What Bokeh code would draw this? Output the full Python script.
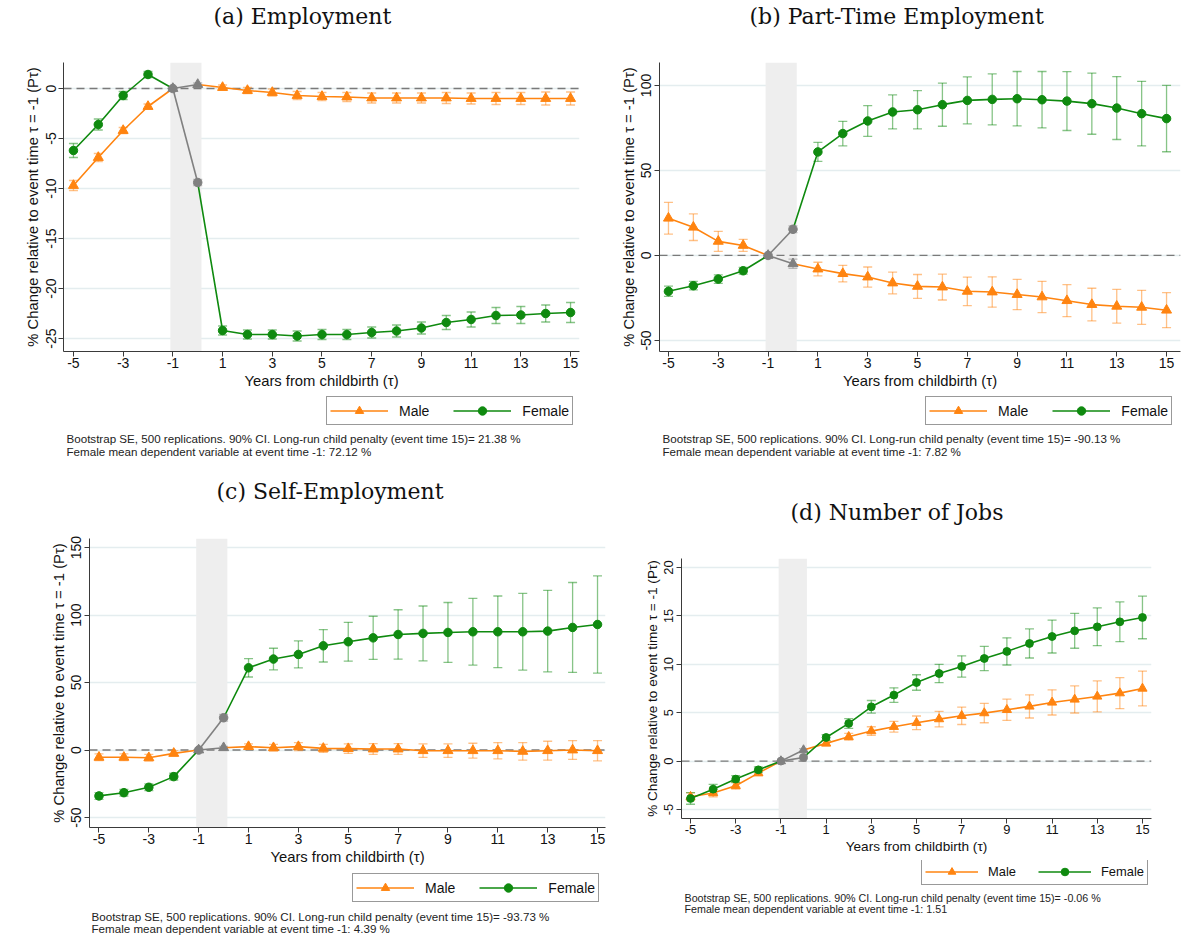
from bokeh.plotting import figure
from bokeh.layouts import row, column
from bokeh.models import (Range1d, FixedTicker, BoxAnnotation, Span, Whisker, TeeHead,
                          ColumnDataSource, Legend, LegendItem, Label)
from bokeh.embed import file_html
from bokeh.resources import INLINE

# ---------------- data ----------------
EVENT_TIME = list(range(-5, 16))
X_TICKS = [-5, -3, -1, 1, 3, 5, 7, 9, 11, 13, 15]

# (a) Employment
EMP_MALE = [-9.7, -6.9, -4.2, -1.8, 0.0, 0.4, 0.1, -0.2, -0.4, -0.7, -0.8, -0.85, -0.95, -0.95,
            -0.95, -0.95, -1.0, -1.0, -1.0, -1.0, -1.0]
EMP_MALE_CI = [0.5, 0.4, 0.3, 0.25, 0.0, 0.15, 0.25, 0.3, 0.35, 0.4, 0.4, 0.45, 0.5, 0.5, 0.5,
               0.55, 0.55, 0.6, 0.6, 0.65, 0.65]
EMP_FEMALE = [-6.2, -3.6, -0.7, 1.4, 0.0, -9.4, -24.2, -24.6, -24.6, -24.75, -24.6, -24.6, -24.4,
              -24.25, -23.95, -23.4, -23.1, -22.7, -22.65, -22.5, -22.4]
EMP_FEMALE_CI = [0.7, 0.55, 0.4, 0.3, 0.0, 0.3, 0.45, 0.45, 0.45, 0.5, 0.5, 0.5, 0.55, 0.6, 0.6,
                 0.7, 0.75, 0.8, 0.85, 0.85, 1.0]
EMP_YTICKS = [-25, -20, -15, -10, -5, 0]

# (b) Part-Time Employment
PT_MALE = [21.9, 16.6, 8.3, 5.9, 0.0, -4.9, -8.0, -10.7, -12.7, -16.2, -18.2, -18.6, -21.1, -21.5,
           -23.0, -24.4, -26.6, -28.9, -29.9, -30.5, -32.2]
PT_MALE_CI = [9.3, 7.8, 5.9, 3.5, 0.0, 2.7, 4.0, 4.9, 5.9, 6.4, 7.0, 7.6, 8.4, 8.9, 8.9, 9.2,
              9.4, 9.6, 9.9, 10.0, 10.3]
PT_FEMALE = [-21.1, -17.8, -13.9, -9.0, 0.0, 15.4, 60.9, 71.7, 79.1, 84.4, 85.7, 88.7, 91.2, 91.8,
             92.2, 91.6, 90.8, 89.3, 86.7, 83.4, 80.5]
PT_FEMALE_CI = [3.0, 2.5, 2.5, 2.0, 0.0, 2.0, 5.6, 7.2, 9.0, 10.0, 11.3, 12.7, 13.8, 15.0, 16.0,
                16.6, 17.3, 18.0, 18.5, 19.0, 19.5]
PT_YTICKS = [-50, 0, 50, 100]

# (c) Self-Employment
SE_MALE = [-5.4, -5.4, -5.7, -2.5, 0.0, 1.7, 2.5, 1.7, 2.5, 1.2, 1.0, 0.7, 0.7, -0.5, -0.5, -0.5,
           -0.5, -1.0, -0.5, 0.0, -0.5]
SE_MALE_CI = [2.5, 2.5, 2.5, 2.0, 0.0, 1.0, 2.0, 2.5, 3.0, 3.0, 3.5, 4.0, 4.0, 5.0, 5.0, 5.5,
              6.0, 6.5, 7.0, 7.0, 7.5]
SE_FEMALE = [-34.0, -31.6, -27.6, -19.7, 0.0, 23.9, 60.9, 67.4, 70.8, 77.2, 80.2, 83.1, 85.6, 86.4,
             87.1, 87.6, 87.6, 87.6, 88.1, 90.8, 93.0]
SE_FEMALE_CI = [2.5, 2.5, 2.5, 2.5, 0.0, 2.5, 6.8, 8.0, 10.0, 12.0, 14.4, 16.0, 18.3, 20.3, 22.2,
                24.7, 26.5, 28.4, 30.2, 33.3, 36.0]
SE_YTICKS = [-50, 0, 50, 100, 150]

# (d) Number of Jobs
JOBS_MALE = [-3.68, -3.3, -2.55, -1.24, 0.0, 1.14, 1.83, 2.51, 3.1, 3.55, 3.96, 4.34, 4.68, 4.96,
             5.3, 5.65, 6.06, 6.37, 6.68, 7.02, 7.5]
JOBS_MALE_CI = [0.4, 0.4, 0.35, 0.25, 0.0, 0.15, 0.25, 0.35, 0.45, 0.55, 0.7, 0.8, 0.9, 1.0, 1.1,
                1.2, 1.3, 1.4, 1.6, 1.6, 1.8]
JOBS_FEMALE = [-3.86, -2.9, -1.86, -0.9, 0.0, 0.38, 2.44, 3.89, 5.61, 6.82, 8.12, 9.05, 9.78, 10.6,
               11.33, 12.15, 12.87, 13.46, 13.87, 14.39, 14.84]
JOBS_FEMALE_CI = [0.6, 0.5, 0.35, 0.3, 0.0, 0.15, 0.3, 0.5, 0.65, 0.75, 0.8, 0.95, 1.1, 1.25, 1.4,
                  1.5, 1.7, 1.8, 1.95, 2.05, 2.2]
JOBS_YTICKS = [-5, 0, 5, 10, 15, 20]

TITLES = ["(a) Employment", "(b) Part-Time Employment", "(c) Self-Employment", "(d) Number of Jobs"]
NOTE_1 = "Bootstrap SE, 500 replications. 90% CI. Long-run child penalty (event time 15)= "
PENALTIES = ["21.38 %", "-90.13 %", "-93.73 %", "-0.06 %"]
NOTE_2 = "Female mean dependent variable at event time -1: "
MEANS = ["72.12 %", "7.82 %", "4.39 %", "1.51"]
SERIES_NAMES = ["Male", "Female"]
X_LABEL = "Years from childbirth (\u03c4)"
Y_LABEL = "% Change relative to event time \u03c4 = -1 (P\u03c4)"

# ---------------- style / layout ----------------
ORANGE = "#FF8410"
GREEN = "#0F8A0F"
GRAY = "#808080"
SANS = "Liberation Sans"
SERIF = "DejaVu Serif"

# w: panel width; strips: (title strip h, main h, legend strip h);
# mb: main figure min borders (left, right, top, bottom).
# Positions in the strips are pixels from the left edge of the plot frame and from the strip bottom.
PANELS = [
    dict(male=EMP_MALE, male_ci=EMP_MALE_CI, female=EMP_FEMALE, female_ci=EMP_FEMALE_CI,
         yticks=EMP_YTICKS, xr=(-5.40, 15.36), yr=(-26.3, 2.6), w=610,
         strips=(47, 348, 75), mb=(63, 31, 15, 44),
         title_xy=(150, 31), leg=(263, 45), foot=(3, 32, 19), scale=1.0),
    dict(male=PT_MALE, male_ci=PT_MALE_CI, female=PT_FEMALE, female_ci=PT_FEMALE_CI,
         yticks=PT_YTICKS, xr=(-5.36, 15.56), yr=(-56.5, 113.5), w=575,
         strips=(47, 348, 75), mb=(49, 5, 15, 44),
         title_xy=(90, 31), leg=(266, 45), foot=(3, 32, 19), scale=1.0),
    dict(male=SE_MALE, male_ci=SE_MALE_CI, female=SE_FEMALE, female_ci=SE_FEMALE_CI,
         yticks=SE_YTICKS, xr=(-5.38, 15.32), yr=(-57.4, 156.7), w=610,
         strips=(50, 351, 69), mb=(89, 5, 18, 44),
         title_xy=(127, 29), leg=(263, 38), foot=(2, 24, 12), scale=1.0),
    dict(male=JOBS_MALE, male_ci=JOBS_MALE_CI, female=JOBS_FEMALE, female_ci=JOBS_FEMALE_CI,
         yticks=JOBS_YTICKS, xr=(-5.4, 15.4), yr=(-5.93, 20.93), w=575,
         strips=(60, 330, 80), mb=(71, 34, 28, 42),
         title_xy=(109, 18), leg=(240, 55), foot=(3, 43, 32), scale=0.92),
]


def px(v):
    return "%.1fpx" % v


def strip(width, height):
    s = figure(width=width, height=height, x_range=Range1d(0, width), y_range=Range1d(0, height),
               x_axis_type=None, y_axis_type=None, output_backend="svg", toolbar_location=None,
               min_border=0)
    s.outline_line_color = None
    s.background_fill_color = "white"
    s.border_fill_color = "white"
    return s


def split_idx(ci):
    idx_pre = [i for i, t in enumerate(EVENT_TIME) if t <= -1]
    idx_post = [i for i, t in enumerate(EVENT_TIME) if t >= 0]
    idx_ref = [i for i, t in enumerate(EVENT_TIME) if t in (-1, 0)]
    idx_col = [i for i, t in enumerate(EVENT_TIME) if t not in (-1, 0)]
    return idx_pre, idx_post, idx_ref, idx_col


def sub(idx, arr):
    return [arr[i] for i in idx]


def draw_series(p, vals, ci, color, marker, size):
    idx_pre, idx_post, idx_ref, idx_col = split_idx(ci)
    idx_ci_col = [i for i in idx_col if ci[i] > 0]
    idx_ci_ref = [i for i in idx_ref if ci[i] > 0]

    for idx, col in ((idx_ci_col, color), (idx_ci_ref, GRAY)):
        src = ColumnDataSource(dict(
            x=sub(idx, EVENT_TIME),
            lo=[vals[i] - ci[i] for i in idx],
            hi=[vals[i] + ci[i] for i in idx]))
        w = Whisker(source=src, base="x", lower="lo", upper="hi", line_color=col,
                    line_alpha=0.5, line_width=1.3,
                    upper_head=TeeHead(size=9, line_color=col, line_alpha=0.5, line_width=1.3),
                    lower_head=TeeHead(size=9, line_color=col, line_alpha=0.5, line_width=1.3))
        p.add_layout(w)

    p.line(sub(idx_pre, EVENT_TIME), sub(idx_pre, vals), line_color=color, line_width=1.6)
    p.line(sub(idx_post, EVENT_TIME), sub(idx_post, vals), line_color=color, line_width=1.6)
    p.line(sub(idx_ref, EVENT_TIME), sub(idx_ref, vals), line_color=GRAY, line_width=1.6)
    p.scatter(sub(idx_col, EVENT_TIME), sub(idx_col, vals), marker=marker, size=size,
              fill_color=color, line_color=color)
    p.scatter(sub(idx_ref, EVENT_TIME), sub(idx_ref, vals), marker=marker, size=size,
              fill_color=GRAY, line_color=GRAY)


def legend_renderers(fig, vals, color, marker, size):
    # hidden copies of a series, used only to draw its legend key
    ln = fig.line(EVENT_TIME, vals, line_color=color, line_width=1.6, visible=False)
    sc = fig.scatter(EVENT_TIME, vals, marker=marker, size=size, fill_color=color,
                     line_color=color, visible=False)
    return [ln, sc]


def build(k):
    c = PANELS[k]
    s = c["scale"]
    w = c["w"]
    th, mh, bh = c["strips"]
    mbl, mbr, mbt, mbb = c["mb"]

    # ---- title strip
    top = strip(w, th)
    tx, ty = c["title_xy"]
    top.add_layout(Label(x=tx, y=ty, x_units="screen", y_units="screen", text=TITLES[k],
                         text_font=SERIF, text_font_size="22px", text_baseline="middle",
                         text_align="left", text_color="#111111"))

    # ---- main plot
    p = figure(width=w, height=mh, x_range=Range1d(*c["xr"]), y_range=Range1d(*c["yr"]),
               output_backend="svg", toolbar_location=None,
               min_border_left=mbl, min_border_right=mbr, min_border_top=mbt,
               min_border_bottom=mbb)
    p.outline_line_color = None
    p.background_fill_color = "white"
    p.border_fill_color = "white"

    p.xaxis.ticker = FixedTicker(ticks=X_TICKS)
    p.xaxis.major_label_overrides = {t: str(t) for t in X_TICKS}
    p.yaxis.ticker = FixedTicker(ticks=c["yticks"])
    p.yaxis.major_label_overrides = {t: str(t) for t in c["yticks"]}
    p.yaxis.major_label_orientation = "parallel"
    p.xaxis.axis_label = X_LABEL
    p.yaxis.axis_label = Y_LABEL
    for ax in (p.xaxis[0], p.yaxis[0]):
        ax.axis_line_color = "#3a3a3a"
        ax.major_tick_line_color = "#3a3a3a"
        ax.minor_tick_line_color = None
        ax.major_tick_in = 0
        ax.major_tick_out = 5
        ax.major_label_text_font = SANS
        ax.major_label_text_font_size = px(14 * s)
        ax.major_label_text_color = "#111111"
        ax.axis_label_text_font = SANS
        ax.axis_label_text_font_size = px(14.8 * s)
        ax.axis_label_text_font_style = "normal"
        ax.axis_label_text_color = "#111111"
    p.xaxis.major_label_standoff = 1
    p.xaxis.axis_label_standoff = 2
    p.yaxis.major_label_standoff = 3
    p.yaxis.axis_label_standoff = 2

    p.xgrid.grid_line_color = None
    p.ygrid.ticker = FixedTicker(ticks=c["yticks"])
    p.ygrid.grid_line_color = "#E4EDEF"
    p.ygrid.grid_line_width = 1.3

    p.add_layout(BoxAnnotation(left=-1.1, right=0.15, fill_color="#EEEEEE", fill_alpha=1.0,
                               line_color=None, level="underlay"))
    p.add_layout(Span(location=0, dimension="width", line_color="#7a7a7a", line_dash="8 5",
                      line_width=1.3, level="underlay"))

    draw_series(p, c["male"], c["male_ci"], ORANGE, "triangle", 10 * s)
    draw_series(p, c["female"], c["female_ci"], GREEN, "circle", 8.5 * s)

    # ---- legend + notes strip
    bot = strip(w, bh)
    r_male = legend_renderers(bot, c["male"], ORANGE, "triangle", 10 * s)
    r_female = legend_renderers(bot, c["female"], GREEN, "circle", 8.5 * s)
    legend = Legend(items=[LegendItem(label=SERIES_NAMES[0], renderers=r_male),
                           LegendItem(label=SERIES_NAMES[1], renderers=r_female)],
                    location=c["leg"], orientation="horizontal", margin=0, padding=3,
                    spacing=int(24 * s), glyph_width=int(58 * s), glyph_height=int(21 * s),
                    label_height=int(20 * s), label_standoff=int(11 * s),
                    label_text_font=SANS, label_text_font_size=px(14 * s),
                    label_text_color="#111111",
                    border_line_color="#333333", border_line_width=1,
                    background_fill_color="white", background_fill_alpha=1.0)
    bot.add_layout(legend)
    fx, fy1, fy2 = c["foot"]
    for txt, fy in ((NOTE_1 + PENALTIES[k], fy1), (NOTE_2 + MEANS[k], fy2)):
        bot.add_layout(Label(x=fx, y=fy, x_units="screen", y_units="screen", text=txt,
                             text_font=SANS, text_font_size=px(11.6 * s),
                             text_baseline="middle", text_align="left", text_color="#222222"))

    return column(top, p, bot)


cols = [build(k) for k in range(4)]
layout = row(column(cols[0], cols[2]), column(cols[1], cols[3]))

open("out.html", "w").write(file_html(layout, INLINE))
